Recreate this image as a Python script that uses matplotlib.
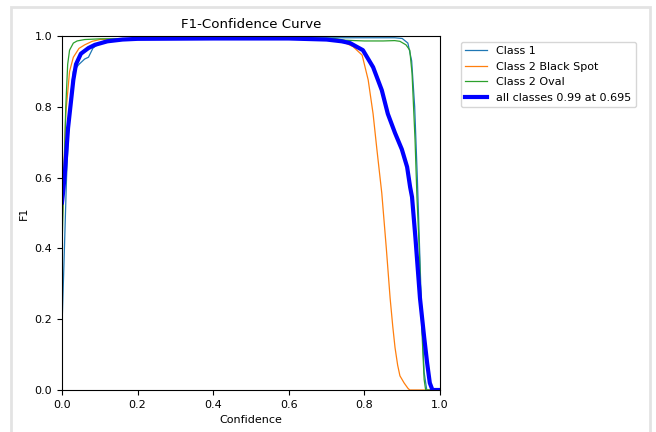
import matplotlib
matplotlib.use("Agg")
import matplotlib.pyplot as plt
from matplotlib.patches import Rectangle

# Class 1
c1_x = [0.0, 0.005, 0.012, 0.02, 0.03, 0.045, 0.06, 0.07, 0.082, 0.1, 0.12, 0.2, 0.4, 0.6, 0.8,
        0.88, 0.9, 0.915, 0.925, 0.933, 0.94, 0.946, 0.952, 0.958, 0.965, 1.0]
c1_y = [0.18, 0.35, 0.6, 0.8, 0.9, 0.92, 0.935, 0.94, 0.966, 0.98, 0.99, 0.993, 0.995, 0.995, 0.995,
        0.995, 0.993, 0.98, 0.93, 0.8, 0.6, 0.4, 0.2, 0.05, 0.0, 0.0]

# Class 2 Black Spot
c2_x = [0.0, 0.005, 0.01, 0.02, 0.03, 0.045, 0.06, 0.08, 0.1, 0.15, 0.3, 0.5, 0.7, 0.73, 0.77,
        0.794, 0.81, 0.823, 0.833, 0.846, 0.858, 0.868, 0.875, 0.881, 0.888, 0.894, 0.905, 0.915, 0.92, 1.0]
c2_y = [0.45, 0.62, 0.78, 0.9, 0.94, 0.965, 0.975, 0.985, 0.99, 0.992, 0.993, 0.993, 0.992, 0.99, 0.97,
        0.946, 0.876, 0.78, 0.68, 0.556, 0.4, 0.26, 0.18, 0.12, 0.07, 0.04, 0.02, 0.005, 0.0, 0.0]

# Class 2 Oval
c3_x = [0.0, 0.005, 0.01, 0.015, 0.02, 0.03, 0.04, 0.06, 0.1, 0.3, 0.6, 0.72, 0.75, 0.8, 0.85,
        0.88, 0.894, 0.91, 0.92, 0.926, 0.934, 0.939, 0.945, 0.952, 0.958, 0.962, 1.0]
c3_y = [0.4, 0.6, 0.8, 0.92, 0.96, 0.98, 0.986, 0.99, 0.992, 0.993, 0.993, 0.993, 0.988, 0.986, 0.986,
        0.987, 0.985, 0.975, 0.96, 0.895, 0.706, 0.545, 0.4, 0.17, 0.03, 0.0, 0.0]

# all classes
all_x = [0.0, 0.004, 0.008, 0.016, 0.03, 0.037, 0.05, 0.07, 0.087, 0.12, 0.16, 0.2, 0.4, 0.6, 0.7,
         0.74, 0.762, 0.796, 0.823, 0.846, 0.862, 0.881, 0.899, 0.913, 0.921, 0.926, 0.935, 0.947,
         0.958, 0.966, 0.973, 0.98, 1.0]
all_y = [0.53, 0.57, 0.62, 0.74, 0.876, 0.92, 0.95, 0.966, 0.975, 0.985, 0.99, 0.992, 0.993, 0.993, 0.99,
         0.985, 0.98, 0.96, 0.912, 0.847, 0.78, 0.726, 0.68, 0.63, 0.573, 0.545, 0.43, 0.26,
         0.15, 0.076, 0.02, 0.0, 0.0]

plt.rcParams['font.size'] = 8

fig = plt.figure(figsize=(6.56, 4.32), dpi=100)
ax = fig.add_axes([62/656, 1-390/432, 378/656, 354/432])

ax.plot(c1_x, c1_y, linewidth=0.9, label='Class 1')
ax.plot(c2_x, c2_y, linewidth=0.9, label='Class 2 Black Spot')
ax.plot(c3_x, c3_y, linewidth=0.9, label='Class 2 Oval')
ax.plot(all_x, all_y, linewidth=3, color='blue', label='all classes 0.99 at 0.695')

ax.set_xlim(0, 1)
ax.set_ylim(0, 1)
ax.set_xlabel('Confidence')
ax.set_ylabel('F1')
ax.set_title('F1-Confidence Curve')
ax.legend(bbox_to_anchor=(1.04, 1), loc='upper left')

# marco gris de la captura
fig.patches.append(Rectangle((11/656, -0.1), 639/656, 1.1 - 7/432, transform=fig.transFigure,
                             fill=False, edgecolor='#e3e3e3', linewidth=2))

fig.savefig('out.png', dpi=100)
